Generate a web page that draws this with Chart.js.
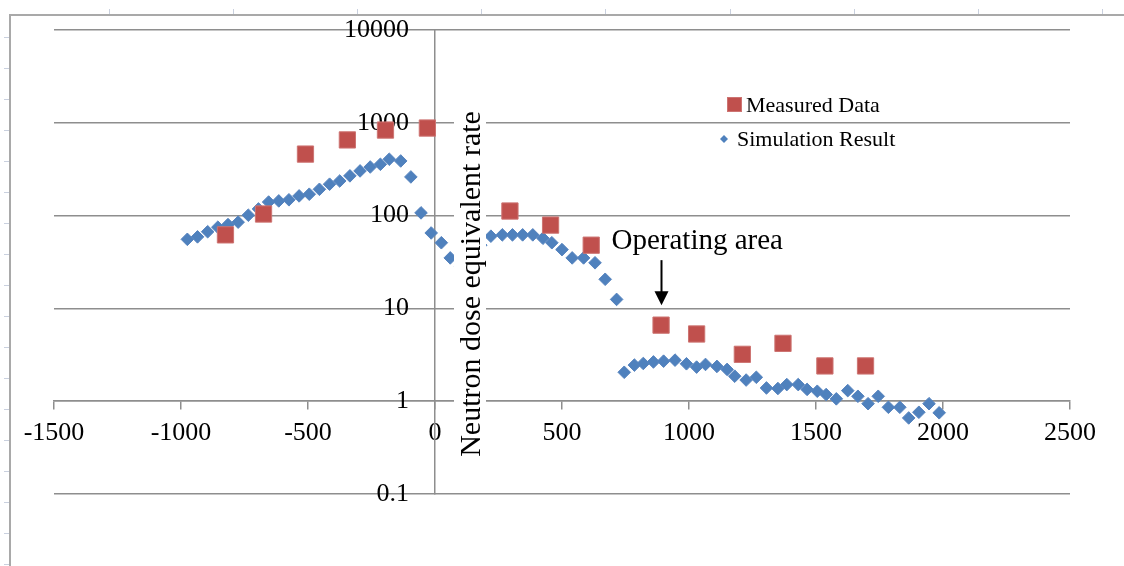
<!DOCTYPE html>
<html>
<head>
<meta charset="utf-8">
<script src="https://cdn.jsdelivr.net/npm/chart.js@4.4.1/dist/chart.umd.min.js"></script>
<style>
  html, body { margin: 0; padding: 0; background: #fff; }
  canvas { display: block; }
</style>
</head>
<body>
<canvas id="grafico" width="1124" height="566"></canvas>
<script>
// measured dose rate along the beam line
const measDistance = [-825, -675, -510, -345, -195, -30, 295, 455, 615, 890, 1030, 1210, 1370, 1535, 1695];
const measRate = [62, 104, 460, 654, 835, 878, 112, 79, 48, 6.6, 5.3, 3.2, 4.2, 2.4, 2.4];

// simulation result
const simDistance = [
  -975, -935, -895, -855, -815, -775, -735, -695, -655, -615,
  -575, -535, -495, -455, -415, -375, -335, -295, -255, -215,
  -180, -135, -95, -55, -15, 25, 60, 100, 140, 180,
  220, 265, 305, 345, 385, 425, 460, 500, 540, 585,
  630, 670, 715, 745, 785, 820, 860, 900, 945, 990,
  1030, 1065, 1110, 1150, 1180, 1225, 1265, 1305, 1350, 1385,
  1430, 1465, 1505, 1540, 1580, 1625, 1665, 1705, 1745, 1785,
  1830, 1865, 1905, 1945, 1985
];
const simRate = [
  55.5, 59, 67, 75, 80, 85, 101, 118, 140, 144,
  148, 163, 170, 192, 218, 236, 268, 303, 334, 357,
  405, 388, 261, 107, 65, 51, 35, 28, 36, 48,
  60, 62, 62, 62, 62, 57, 51, 43, 35, 35,
  31, 20.6, 12.5, 2.05, 2.45, 2.55, 2.65, 2.7, 2.77, 2.53,
  2.33, 2.49, 2.37, 2.2, 1.86, 1.69, 1.81, 1.39, 1.37, 1.51,
  1.51, 1.34, 1.28, 1.18, 1.06, 1.3, 1.13, 0.94, 1.13, 0.86,
  0.86, 0.66, 0.76, 0.94, 0.75
];

const xTicks = [-1500, -1000, -500, 0, 500, 1000, 1500, 2000, 2500];
const yTicks = [0.1, 1, 10, 100, 1000, 10000];

const yTitle = "Neutron dose equivalent rate";
const noteText = "Operating area";
const noteIndex = 9; // measured point the arrow points at

const serif = "'Liberation Serif', 'Times New Roman', serif";
const gridColor = "#8e8e8e";

function pares(xs, ys) {
  return xs.map((x, i) => ({ x: x, y: ys[i] }));
}

// white sheet with the outer frame and its small ticks
const moldura = {
  id: "moldura",
  beforeDraw(chart) {
    const ctx = chart.ctx;
    ctx.save();
    ctx.fillStyle = "#fff";
    ctx.fillRect(0, 0, chart.width, chart.height);

    ctx.strokeStyle = "#c9d0de";
    ctx.lineWidth = 1;
    for (let x = 109; x < chart.width; x += 124.1) {
      ctx.beginPath();
      ctx.moveTo(Math.round(x) + 0.5, 9);
      ctx.lineTo(Math.round(x) + 0.5, 15);
      ctx.stroke();
    }
    for (let y = 37; y < chart.height; y += 31) {
      ctx.beginPath();
      ctx.moveTo(4, y + 0.5);
      ctx.lineTo(9, y + 0.5);
      ctx.stroke();
    }

    ctx.strokeStyle = "#a9a9a9";
    ctx.lineWidth = 2;
    ctx.beginPath();
    ctx.moveTo(10, chart.height);
    ctx.lineTo(10, 15);
    ctx.lineTo(chart.width, 15);
    ctx.stroke();
    ctx.restore();
  }
};

// axis title, note with arrow, and legend
const anotacoes = {
  id: "anotacoes",
  afterDatasetsDraw(chart) {
    const ctx = chart.ctx;
    const xs = chart.scales.x;
    const ys = chart.scales.y;
    const x0 = xs.getPixelForValue(0);

    ctx.save();

    // y title sits on a white strip beside the axis
    ctx.fillStyle = "#fff";
    ctx.fillRect(x0 + 19, 106, 32, 352);
    ctx.fillStyle = "#000";
    ctx.font = "30px " + serif;
    ctx.textAlign = "center";
    ctx.textBaseline = "alphabetic";
    ctx.translate(x0 + 45, 284);
    ctx.rotate(-Math.PI / 2);
    ctx.fillText(yTitle, 0, 0);
    ctx.setTransform(1, 0, 0, 1, 0, 0);

    // "Operating area" arrow
    const ax = Math.round(xs.getPixelForValue(measDistance[noteIndex])) + 0.5;
    const tip = ys.getPixelForValue(measRate[noteIndex]) - 20;
    const top = tip - 45;
    ctx.strokeStyle = "#000";
    ctx.lineWidth = 2;
    ctx.beginPath();
    ctx.moveTo(ax, top);
    ctx.lineTo(ax, tip - 12);
    ctx.stroke();
    ctx.beginPath();
    ctx.moveTo(ax - 7, tip - 14);
    ctx.lineTo(ax + 7, tip - 14);
    ctx.lineTo(ax, tip);
    ctx.closePath();
    ctx.fill();
    ctx.font = "29px " + serif;
    ctx.textAlign = "left";
    ctx.fillText(noteText, ax - 50, top - 11);

    // legend
    const sets = chart.data.datasets;
    ctx.font = "22px " + serif;
    ctx.fillStyle = sets[0].backgroundColor;
    ctx.strokeStyle = sets[0].borderColor;
    ctx.lineWidth = 1;
    ctx.fillRect(727.5, 97.5, 14, 14);
    ctx.strokeRect(727.5, 97.5, 14, 14);
    ctx.fillStyle = "#000";
    ctx.fillText(sets[0].label, 746, 111.5);

    ctx.fillStyle = sets[1].backgroundColor;
    ctx.beginPath();
    ctx.moveTo(720, 139);
    ctx.lineTo(724, 135);
    ctx.lineTo(728, 139);
    ctx.lineTo(724, 143);
    ctx.closePath();
    ctx.fill();
    ctx.fillStyle = "#000";
    ctx.fillText(sets[1].label, 737, 145.5);

    ctx.restore();
  }
};

const ctx = document.getElementById("grafico").getContext("2d");

const grafico = new Chart(ctx, {
  type: "scatter",
  data: {
    datasets: [
      {
        label: "Measured Data",
        data: pares(measDistance, measRate),
        pointStyle: "rect",
        pointRadius: 11.5,
        backgroundColor: "#C0504D",
        borderColor: "#cd7472",
        borderWidth: 1
      },
      {
        label: "Simulation Result",
        data: pares(simDistance, simRate),
        pointStyle: "rectRot",
        pointRadius: 6.3,
        backgroundColor: "#4F81BD",
        borderColor: "#5784bf",
        borderWidth: 1
      }
    ]
  },
  options: {
    responsive: false,
    animation: false,
    devicePixelRatio: 1,
    layout: { padding: { left: 54, right: 54, top: 30, bottom: 72 } },
    plugins: {
      legend: { display: false },
      tooltip: { enabled: false }
    },
    scales: {
      x: {
        type: "linear",
        position: { y: 1 },
        min: -1500,
        max: 2500,
        afterBuildTicks: (s) => { s.ticks = xTicks.map((v) => ({ value: v })); },
        // axes sit inside the plot, so they take no room in the layout
        afterFit: (s) => { s.height = 0; s.paddingLeft = 0; s.paddingRight = 0; },
        grid: { drawOnChartArea: false, tickLength: 8, color: gridColor, lineWidth: 1.5 },
        border: { color: gridColor, width: 1.5 },
        ticks: {
          autoSkip: false,
          maxRotation: 0,
          padding: 8,
          color: "#000",
          font: { family: serif, size: 26 },
          callback: (v) => String(v)
        }
      },
      y: {
        type: "logarithmic",
        position: { x: 0 },
        min: 0.1,
        max: 10000,
        afterBuildTicks: (s) => { s.ticks = yTicks.map((v) => ({ value: v })); },
        afterFit: (s) => { s.width = 0; s.paddingTop = 0; s.paddingBottom = 0; },
        grid: { drawTicks: false, color: gridColor, lineWidth: 1.5 },
        border: { color: gridColor, width: 1.5 },
        ticks: {
          color: "#000",
          font: { family: serif, size: 26 },
          // trailing spaces keep the labels clear of the axis line
          callback: (v) => String(v) + "    "
        }
      }
    }
  },
  plugins: [moldura, anotacoes]
});
</script>
</body>
</html>
